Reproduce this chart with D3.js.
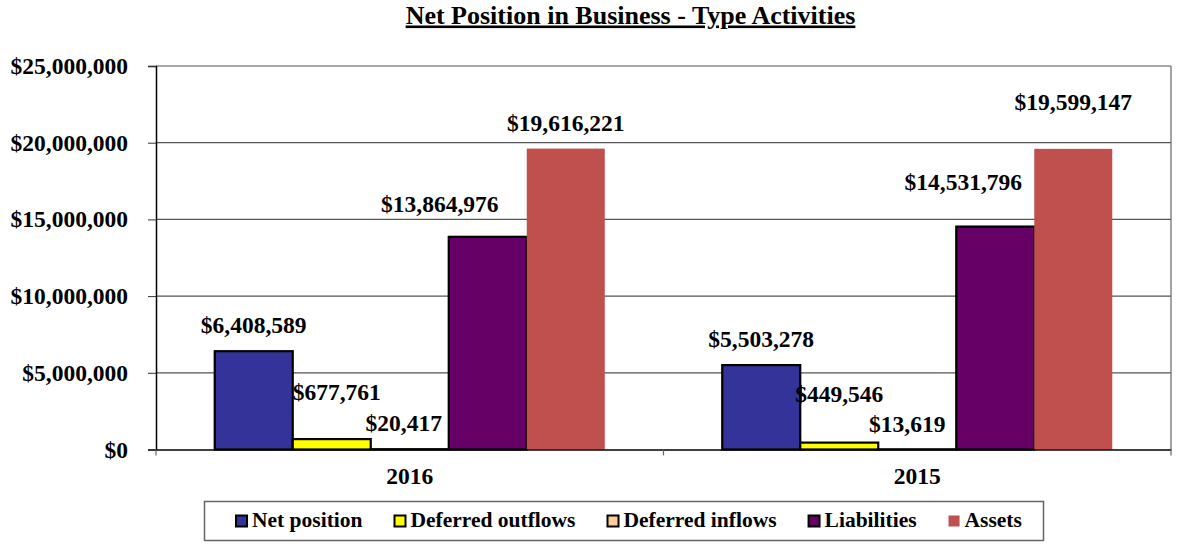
<!DOCTYPE html>
<html>
<head>
<meta charset="utf-8">
<script src="https://cdn.jsdelivr.net/npm/d3@7"></script>
<style>
  body { margin: 0; background: #fff; }
  svg { display: block; font-family: "Times New Roman", "Liberation Serif", serif; font-weight: bold; }
</style>
</head>
<body>
<svg id="chart" width="1177" height="550"></svg>
<script>
// data
const years = ["2016", "2015"];
const series = ["Net position", "Deferred outflows", "Deferred inflows", "Liabilities", "Assets"];
const values2016 = [6408589, 677761, 20417, 13864976, 19616221];
const values2015 = [5503278, 449546, 13619, 14531796, 19599147];
const yTicks = [0, 5000000, 10000000, 15000000, 20000000, 25000000];

// look
const colors = ["#333399", "#FFFF00", "#FFCC99", "#660066", "#C0504D"];
const outlined = [true, true, true, true, false];
// hand-moved data labels (dx, dy from bar top), like the original
const labelNudge = {
  "2016": [[0, -18], [5, -39], [-6, -18.5], [-48, -25], [0, -18]],
  "2015": [[0, -18.4], [0, -41], [-10, -17.6], [-32, -36.6], [0, -39]]
};

const svg = d3.select("#chart");
const plotLeft = 156, plotRight = 1171, plotTop = 66, plotBottom = 449.5;

const x0 = d3.scaleBand().domain(years).range([plotLeft, plotRight]).paddingInner(0).paddingOuter(0);
const x1 = d3.scaleBand().domain(series).range([0, x0.bandwidth()]).paddingInner(0).paddingOuter(0.753);
const y = d3.scaleLinear().domain([0, 25000000]).range([plotBottom, plotTop]);

const fmt = v => "$" + d3.format(",")(v);

// title
svg.append("text")
  .attr("x", 630.5).attr("y", 23.5)
  .attr("text-anchor", "middle")
  .attr("font-size", 26)
  .attr("text-decoration", "underline")
  .text("Net Position in Business - Type Activities");

// gridlines
svg.append("g").selectAll("line")
  .data(yTicks.slice(1))
  .join("line")
  .attr("x1", plotLeft).attr("x2", plotRight)
  .attr("y1", d => y(d)).attr("y2", d => y(d))
  .attr("stroke", "#555").attr("stroke-width", 1.2);

// right border of plot
svg.append("line")
  .attr("x1", plotRight).attr("x2", plotRight).attr("y1", plotTop).attr("y2", plotBottom)
  .attr("stroke", "#666").attr("stroke-width", 1.2);

// y axis
const yAxis = svg.append("g")
  .attr("transform", `translate(${plotLeft},0)`)
  .call(d3.axisLeft(y).tickValues(yTicks).tickFormat(fmt).tickSize(8).tickPadding(20));
yAxis.select(".domain").attr("stroke", "#000").attr("stroke-width", 1.5);
yAxis.selectAll(".tick line").attr("stroke", "#333");
yAxis.selectAll("text")
  .attr("font-size", 23.5).attr("font-family", "Times New Roman, Liberation Serif, serif")
  .attr("font-weight", "bold").attr("fill", "#000");

// bars
const groups = svg.append("g").selectAll("g")
  .data(years)
  .join("g")
  .attr("transform", d => `translate(${x0(d)},0)`);

const rows = d => (d === "2016" ? values2016 : values2015).map((v, i) => ({ year: d, i: i, key: series[i], v: v }));

groups.selectAll("rect")
  .data(rows)
  .join("rect")
  .attr("x", d => x1(d.key))
  .attr("y", d => y(d.v))
  .attr("width", x1.bandwidth())
  .attr("height", d => plotBottom - y(d.v))
  .attr("fill", d => colors[d.i])
  .attr("stroke", d => outlined[d.i] ? "#000" : "none")
  .attr("stroke-width", 2.2);

// x axis
const xAxis = svg.append("g")
  .attr("transform", `translate(0,${plotBottom})`)
  .call(d3.axisBottom(x0).tickSize(0).tickPadding(18));
xAxis.select(".domain").attr("stroke", "#000").attr("stroke-width", 1.5);
xAxis.selectAll("text")
  .attr("font-size", 23.5).attr("font-family", "Times New Roman, Liberation Serif, serif")
  .attr("font-weight", "bold").attr("fill", "#000");
// category separator ticks
svg.append("g").selectAll("line")
  .data([plotLeft, x0("2015"), plotRight])
  .join("line")
  .attr("x1", d => d).attr("x2", d => d)
  .attr("y1", plotBottom).attr("y2", plotBottom + 6)
  .attr("stroke", "#666").attr("stroke-width", 1.2);

// data labels
groups.selectAll("text.lbl")
  .data(rows)
  .join("text")
  .attr("class", "lbl")
  .attr("x", d => x1(d.key) + x1.bandwidth() / 2 + labelNudge[d.year][d.i][0])
  .attr("y", d => y(d.v) + labelNudge[d.year][d.i][1])
  .attr("text-anchor", "middle")
  .attr("font-size", 23.5)
  .text(d => fmt(d.v));

// legend
const legend = svg.append("g");
legend.append("rect")
  .attr("x", 204.5).attr("y", 501.5).attr("width", 839).attr("height", 39)
  .attr("fill", "#fff").attr("stroke", "#666").attr("stroke-width", 1.5);

let lx = 236;
series.forEach((s, i) => {
  legend.append("rect")
    .attr("x", lx).attr("y", 515.5).attr("width", 11).attr("height", 11)
    .attr("fill", colors[i])
    .attr("stroke", outlined[i] ? "#000" : "none")
    .attr("stroke-width", 2);
  const t = legend.append("text")
    .attr("x", lx + 16).attr("y", 527)
    .attr("font-size", 21.5)
    .text(s);
  lx += 16 + t.node().getComputedTextLength() + 32;
});
</script>
</body>
</html>
